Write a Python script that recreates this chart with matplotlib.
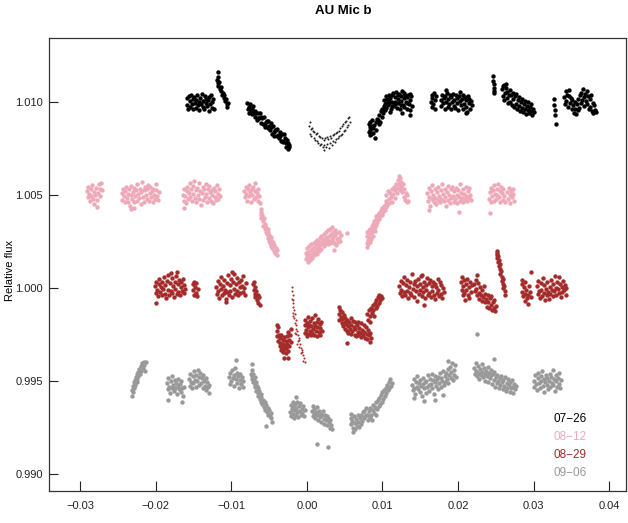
import matplotlib
matplotlib.use("Agg")
import matplotlib.pyplot as plt
from matplotlib.ticker import FixedLocator, FuncFormatter

plt.rcParams['font.family'] = ['Liberation Sans', 'DejaVu Sans']

# ---------------- data (x, relative flux) ----------------
k0726 = [
    (-0.0159,1.00985),(-0.0158,1.01020),(-0.0157,1.00965),(-0.0156,1.01030),(-0.0155,1.01005),(-0.0154,1.00975),
    (-0.0153,1.01040),(-0.0152,1.00990),(-0.0151,1.01015),(-0.0150,1.00960),(-0.0149,1.01025),(-0.0148,1.00995),
    (-0.0147,1.01010),(-0.0146,1.00970),(-0.0145,1.01035),(-0.0144,1.00985),(-0.0143,1.01000),(-0.0142,1.00955),
    (-0.0141,1.01020),(-0.0140,1.00990),(-0.0139,1.01045),(-0.0138,1.00975),(-0.0137,1.01005),(-0.0136,1.00965),
    (-0.0135,1.01030),(-0.0134,1.00995),(-0.0133,1.01015),(-0.0132,1.00980),(-0.0131,1.01010),(-0.0130,1.00950),
    (-0.0129,1.01025),(-0.0128,1.00990),(-0.0127,1.01040),(-0.0126,1.00970),(-0.0125,1.01000),(-0.0124,1.01015),
    (-0.0123,1.00960),
    (-0.0119,1.01120),(-0.0118,1.01100),(-0.0118,1.01135),(-0.0117,1.01085),(-0.0116,1.01105),(-0.0115,1.01070),
    (-0.0114,1.01060),(-0.0113,1.01080),(-0.0112,1.01040),(-0.0111,1.01050),(-0.0110,1.01020),(-0.0109,1.01035),
    (-0.0108,1.01005),(-0.0107,1.01015),(-0.0106,1.00990),(-0.0105,1.00975),(-0.0104,1.00995),(-0.0118,1.01161),
    (-0.0079,1.00995),(-0.0078,1.00960),(-0.0077,1.00973),(-0.0076,1.00943),(-0.0075,1.00989),(-0.0074,1.00953),
    (-0.0073,1.00935),(-0.0072,1.00965),(-0.0071,1.00976),(-0.0070,1.00941),(-0.0069,1.00917),(-0.0068,1.00954),
    (-0.0067,1.00941),(-0.0066,1.00903),(-0.0065,1.00942),(-0.0064,1.00912),(-0.0063,1.00913),(-0.0062,1.00941),
    (-0.0061,1.00889),(-0.0060,1.00917),(-0.0059,1.00916),(-0.0058,1.00884),(-0.0057,1.00918),(-0.0056,1.00868),
    (-0.0055,1.00877),(-0.0054,1.00893),(-0.0053,1.00896),(-0.0052,1.00858),(-0.0051,1.00899),(-0.0050,1.00870),
    (-0.0049,1.00851),(-0.0048,1.00885),(-0.0047,1.00866),(-0.0046,1.00827),(-0.0045,1.00872),(-0.0044,1.00840),
    (-0.0043,1.00819),(-0.0042,1.00847),(-0.0041,1.00847),(-0.0040,1.00819),(-0.0039,1.00854),(-0.0038,1.00822),
    (-0.0037,1.00809),(-0.0036,1.00839),(-0.0035,1.00816),(-0.0034,1.00789),(-0.0033,1.00826),(-0.0032,1.00786),
    (-0.0031,1.00790),(-0.0030,1.00826),(-0.0029,1.00806),(-0.0028,1.00777),(-0.0027,1.00758),(-0.0026,1.00794),
    (-0.0025,1.00782),(-0.0024,1.00758),(-0.0024,1.00770),(-0.0025,1.00745),
    (0.0082,1.00880),(0.0082,1.00840),(0.0083,1.00865),(0.0083,1.00825),(0.0084,1.00895),(0.0084,1.00850),
    (0.0085,1.00870),(0.0085,1.00830),(0.0086,1.00905),(0.0087,1.00860),(0.0088,1.00835),(0.0089,1.00875),
    (0.0090,1.00806),(0.0091,1.00890),(0.0092,1.00850),(0.0093,1.00910),
    (0.0094,1.00905),(0.0095,1.00880),(0.0096,1.00930),(0.0097,1.00895),(0.0098,1.00950),(0.0099,1.00920),
    (0.0100,1.00965),(0.0101,1.00940),(0.0102,1.00980),(0.0103,1.00955),
    (0.0102,1.01010),(0.0103,1.00990),(0.0104,1.01030),(0.0105,1.00970),(0.0106,1.01015),(0.0107,1.00985),
    (0.0108,1.01040),(0.0109,1.00995),(0.0110,1.01020),(0.0111,1.00965),(0.0112,1.01035),(0.0113,1.01000),
    (0.0114,1.01050),(0.0115,1.00980),(0.0116,1.01025),(0.0117,1.00990),(0.0118,1.01055),(0.0119,1.00970),
    (0.0120,1.01015),(0.0121,1.00995),(0.0122,1.01045),(0.0123,1.00960),(0.0124,1.01030),(0.0125,1.01005),
    (0.0126,1.01060),(0.0127,1.00985),(0.0128,1.01020),(0.0129,1.00975),(0.0130,1.01040),(0.0131,1.01000),
    (0.0132,1.01025),(0.0133,1.00965),(0.0134,1.01035),(0.0135,1.00990),(0.0136,1.01010),(0.0137,1.00955),
    (0.0138,1.01030),(0.0139,1.00980),(0.0104,1.00995),(0.0108,1.01005),(0.0112,1.00980),(0.0116,1.01000),
    (0.0120,1.01040),(0.0124,1.00985),(0.0128,1.01050),(0.0132,1.00995),(0.0136,1.01045),(0.0110,1.00945),
    (0.0126,1.00940),(0.0137,1.00930),
    (0.0164,1.01000),(0.0165,1.01040),(0.0165,1.00975),(0.0166,1.01020),(0.0167,1.00990),(0.0168,1.01050),
    (0.0169,1.01010),(0.0170,1.00965),(0.0171,1.01030),
    (0.0177,1.01010),(0.0178,1.00980),(0.0179,1.01040),(0.0180,1.00995),(0.0181,1.01020),(0.0182,1.00965),
    (0.0183,1.01030),(0.0184,1.01000),(0.0185,1.01050),(0.0186,1.00975),(0.0187,1.01015),(0.0188,1.00990),
    (0.0189,1.01035),(0.0190,1.00960),(0.0191,1.01025),(0.0192,1.01000),(0.0193,1.01045),(0.0194,1.00980),
    (0.0195,1.01010),(0.0196,1.00970),(0.0197,1.01040),(0.0198,1.00995),(0.0199,1.01020),(0.0200,1.00955),
    (0.0201,1.01030),(0.0202,1.01005),(0.0203,1.01055),(0.0204,1.00985),(0.0205,1.01015),(0.0206,1.00965),
    (0.0207,1.01035),(0.0208,1.00990),(0.0209,1.01025),(0.0210,1.00975),(0.0211,1.01010),(0.0212,1.00945),
    (0.0213,1.01030),(0.0214,1.00995),(0.0215,1.01015),(0.0216,1.00960),(0.0217,1.01005),(0.0218,1.00985),
    (0.0184,1.01065),(0.0210,1.00940),
    (0.0246,1.01140),(0.0246,1.01115),(0.0247,1.01095),(0.0247,1.01075),(0.0248,1.01060),(0.0248,1.01050),
    (0.0258,1.01070),(0.0259,1.01030),(0.0260,1.01085),(0.0261,1.01010),(0.0262,1.01050),(0.0263,1.01075),
    (0.0264,1.01020),(0.0265,1.01055),(0.0266,1.00995),(0.0267,1.01040),(0.0268,1.01065),(0.0269,1.01000),
    (0.0270,1.01035),(0.0271,1.00985),(0.0272,1.01050),(0.0273,1.01015),(0.0274,1.00975),(0.0275,1.01030),
    (0.0276,1.00990),(0.0277,1.01045),(0.0278,1.00965),(0.0279,1.01010),(0.0280,1.00980),(0.0281,1.01025),
    (0.0282,1.00950),(0.0283,1.01000),(0.0284,1.00970),(0.0285,1.01015),(0.0286,1.00945),(0.0287,1.00990),
    (0.0288,1.00960),(0.0289,1.01005),(0.0290,1.00935),(0.0291,1.00980),(0.0292,1.00955),(0.0293,1.01000),
    (0.0294,1.00940),(0.0295,1.00975),(0.0296,1.00950),(0.0297,1.00990),(0.0298,1.00930),(0.0299,1.00965),
    (0.0300,1.00945),(0.0261,1.01090),(0.0263,1.01095),
    (0.0327,1.01016),(0.0327,1.00984),(0.0328,1.00957),(0.0328,1.00930),(0.0329,1.00882),
    (0.0340,1.01025),(0.0341,1.00990),(0.0342,1.01060),(0.0343,1.01005),(0.0344,1.01040),(0.0345,1.00975),
    (0.0346,1.01030),(0.0347,1.01065),(0.0348,1.00995),(0.0349,1.01020),(0.0350,1.00960),(0.0351,1.01010),
    (0.0352,1.00985),(0.0353,1.00940),(0.0354,1.01000),(0.0355,1.00965),(0.0356,1.00935),(0.0357,1.00990),
    (0.0358,1.00955),(0.0359,1.01015),(0.0360,1.00970),(0.0361,1.01035),(0.0362,1.00995),(0.0363,1.01050),
    (0.0364,1.01010),(0.0365,1.01070),(0.0366,1.01025),(0.0367,1.00980),(0.0368,1.01045),(0.0369,1.01005),
    (0.0370,1.01060),(0.0371,1.00990),(0.0372,1.01030),(0.0373,1.00960),(0.0374,1.01015),(0.0375,1.00975),
    (0.0376,1.01035),(0.0377,1.00950),(0.0378,1.00995),(0.0379,1.00940),(0.0380,1.00985),(0.0381,1.00955),
    (0.0382,1.00945),
]

k0726_dots = [
    (0.0003,1.00870),(0.0004,1.00830),(0.0005,1.00855),(0.0006,1.00815),(0.0007,1.00860),(0.0008,1.00845),
    (0.0009,1.00805),(0.0010,1.00840),(0.0011,1.00798),(0.0012,1.00830),(0.0013,1.00790),(0.0014,1.00835),
    (0.0015,1.00780),(0.0016,1.00815),(0.0017,1.00770),(0.0018,1.00810),(0.0019,1.00775),(0.0020,1.00805),
    (0.0021,1.00760),(0.0022,1.00795),(0.0023,1.00768),(0.0024,1.00805),(0.0025,1.00760),(0.0026,1.00812),
    (0.0027,1.00772),(0.0028,1.00800),(0.0029,1.00755),(0.0030,1.00815),(0.0031,1.00780),(0.0032,1.00808),
    (0.0033,1.00770),(0.0034,1.00822),(0.0035,1.00790),(0.0036,1.00830),(0.0037,1.00785),(0.0038,1.00835),
    (0.0039,1.00800),(0.0040,1.00840),(0.0041,1.00805),(0.0042,1.00845),(0.0043,1.00815),(0.0044,1.00860),
    (0.0045,1.00820),(0.0046,1.00870),(0.0047,1.00830),(0.0048,1.00880),(0.0049,1.00845),(0.0050,1.00895),
    (0.0051,1.00850),(0.0052,1.00900),(0.0053,1.00865),(0.0054,1.00915),(0.0055,1.00875),(0.0056,1.00920),
    (0.0057,1.00890),(0.0004,1.00893),(0.0022,1.00742),
]

p0812 = [
    (-0.0291,1.00520),(-0.0290,1.00490),(-0.0289,1.00545),(-0.0288,1.00505),(-0.0287,1.00470),(-0.0286,1.00530),
    (-0.0285,1.00495),(-0.0284,1.00555),(-0.0283,1.00480),(-0.0282,1.00515),(-0.0281,1.00450),(-0.0280,1.00500),
    (-0.0279,1.00540),(-0.0278,1.00475),(-0.0277,1.00435),(-0.0276,1.00510),(-0.0275,1.00560),(-0.0274,1.00495),
    (-0.0273,1.00530),(-0.0272,1.00565),(-0.0271,1.00525),
    (-0.0245,1.00510),(-0.0244,1.00475),(-0.0243,1.00535),(-0.0242,1.00495),(-0.0241,1.00460),(-0.0240,1.00520),
    (-0.0239,1.00545),(-0.0238,1.00485),(-0.0237,1.00505),(-0.0236,1.00465),(-0.0235,1.00530),(-0.0234,1.00440),
    (-0.0233,1.00500),(-0.0232,1.00550),(-0.0231,1.00480),(-0.0230,1.00515),(-0.0229,1.00460),(-0.0228,1.00540),
    (-0.0227,1.00495),(-0.0226,1.00525),(-0.0225,1.00470),(-0.0224,1.00560),(-0.0223,1.00505),(-0.0222,1.00485),
    (-0.0221,1.00535),(-0.0220,1.00450),(-0.0219,1.00515),(-0.0218,1.00570),(-0.0217,1.00490),(-0.0216,1.00525),
    (-0.0215,1.00465),(-0.0214,1.00545),(-0.0213,1.00500),(-0.0212,1.00480),(-0.0211,1.00530),(-0.0210,1.00555),
    (-0.0209,1.00470),(-0.0208,1.00510),(-0.0207,1.00545),(-0.0206,1.00490),(-0.0205,1.00520),(-0.0204,1.00465),
    (-0.0203,1.00535),(-0.0202,1.00500),(-0.0201,1.00480),(-0.0200,1.00525),(-0.0199,1.00560),(-0.0198,1.00495),
    (-0.0197,1.00475),(-0.0196,1.00515),(-0.0232,1.00425),(-0.0228,1.00430),
    (-0.0164,1.00500),(-0.0163,1.00470),(-0.0162,1.00535),(-0.0161,1.00495),(-0.0160,1.00455),(-0.0159,1.00520),
    (-0.0158,1.00545),(-0.0157,1.00480),(-0.0156,1.00510),(-0.0155,1.00565),(-0.0154,1.00490),(-0.0153,1.00530),
    (-0.0152,1.00470),(-0.0151,1.00550),(-0.0150,1.00505),(-0.0149,1.00575),(-0.0148,1.00485),(-0.0147,1.00525),
    (-0.0146,1.00460),(-0.0145,1.00540),(-0.0144,1.00500),(-0.0143,1.00565),(-0.0142,1.00480),(-0.0141,1.00520),
    (-0.0140,1.00445),(-0.0139,1.00510),(-0.0138,1.00545),(-0.0137,1.00475),(-0.0136,1.00530),(-0.0135,1.00490),
    (-0.0134,1.00560),(-0.0133,1.00505),(-0.0132,1.00465),(-0.0131,1.00535),(-0.0130,1.00485),(-0.0129,1.00550),
    (-0.0128,1.00515),(-0.0127,1.00470),(-0.0126,1.00525),(-0.0125,1.00500),(-0.0124,1.00455),(-0.0123,1.00540),
    (-0.0122,1.00490),(-0.0121,1.00520),(-0.0120,1.00475),(-0.0119,1.00555),(-0.0118,1.00505),(-0.0117,1.00480),
    (-0.0116,1.00530),(-0.0115,1.00495),(-0.0163,1.00430),
    (-0.0083,1.00520),(-0.0082,1.00490),(-0.0081,1.00545),(-0.0080,1.00505),(-0.0079,1.00470),(-0.0078,1.00530),
    (-0.0077,1.00555),(-0.0076,1.00495),(-0.0075,1.00515),(-0.0074,1.00460),(-0.0073,1.00535),(-0.0072,1.00500),
    (-0.0071,1.00545),(-0.0070,1.00480),(-0.0069,1.00520),(-0.0068,1.00565),(-0.0067,1.00490),(-0.0066,1.00510),
    (-0.0065,1.00470),(-0.0064,1.00530),(-0.0063,1.00495),
    (-0.0062,1.00455),(-0.0061,1.00425),(-0.0061,1.00395),(-0.0060,1.00410),(-0.0060,1.00375),(-0.0059,1.00390),
    (-0.0058,1.00360),(-0.0058,1.00335),(-0.0057,1.00375),(-0.0056,1.00345),(-0.0056,1.00315),(-0.0055,1.00335),
    (-0.0054,1.00300),(-0.0054,1.00325),(-0.0053,1.00290),(-0.0052,1.00315),(-0.0052,1.00270),(-0.0051,1.00300),
    (-0.0050,1.00255),(-0.0050,1.00285),(-0.0049,1.00240),(-0.0048,1.00275),(-0.0048,1.00225),(-0.0047,1.00260),
    (-0.0046,1.00215),(-0.0045,1.00245),(-0.0044,1.00200),(-0.0043,1.00230),(-0.0042,1.00190),(-0.0041,1.00215),
    (-0.0040,1.00180),(-0.0039,1.00205),
    (-0.0001,1.00190),(-0.0001,1.00155),(0.0000,1.00215),(0.0000,1.00170),(0.0001,1.00140),(0.0002,1.00195),
    (0.0002,1.00160),(0.0003,1.00225),(0.0003,1.00180),(0.0004,1.00150),(0.0005,1.00205),(0.0005,1.00170),
    (0.0006,1.00235),(0.0007,1.00185),(0.0007,1.00160),(0.0008,1.00215),(0.0009,1.00195),(0.0009,1.00240),
    (0.0010,1.00175),(0.0011,1.00220),(0.0011,1.00250),(0.0012,1.00200),(0.0013,1.00230),(0.0013,1.00185),
    (0.0014,1.00260),(0.0015,1.00215),(0.0015,1.00245),(0.0016,1.00200),(0.0017,1.00270),(0.0017,1.00230),
    (0.0018,1.00250),(0.0019,1.00210),(0.0019,1.00280),(0.0020,1.00240),(0.0021,1.00265),(0.0022,1.00225),
    (0.0022,1.00290),(0.0023,1.00255),(0.0024,1.00235),(0.0025,1.00275),(0.0025,1.00300),(0.0026,1.00245),
    (0.0027,1.00265),(0.0028,1.00310),(0.0028,1.00235),(0.0029,1.00280),(0.0030,1.00255),(0.0030,1.00320),
    (0.0031,1.00240),(0.0032,1.00290),(0.0033,1.00265),(0.0033,1.00330),(0.0034,1.00250),(0.0035,1.00300),
    (0.0035,1.00275),(0.0036,1.00240),(0.0037,1.00310),(0.0037,1.00285),(0.0038,1.00230),(0.0039,1.00295),
    (0.0040,1.00265),(0.0041,1.00245),(0.0042,1.00300),(0.0043,1.00270),(0.0044,1.00255),(0.0045,1.00285),
    (0.0053,1.00296),(0.0036,1.00204),
    (0.0079,1.00240),(0.0079,1.00280),(0.0080,1.00220),(0.0080,1.00300),(0.0081,1.00260),(0.0081,1.00235),
    (0.0082,1.00310),(0.0082,1.00275),(0.0083,1.00250),(0.0084,1.00320),(0.0084,1.00290),(0.0085,1.00265),
    (0.0086,1.00335),(0.0086,1.00300),(0.0087,1.00280),(0.0088,1.00345),(0.0088,1.00315),(0.0089,1.00360),
    (0.0090,1.00330),(0.0090,1.00305),(0.0091,1.00370),(0.0092,1.00340),(0.0092,1.00385),(0.0093,1.00355),
    (0.0094,1.00395),(0.0095,1.00370),(0.0096,1.00405),(0.0097,1.00385),(0.0098,1.00420),(0.0099,1.00395),
    (0.0100,1.00430),(0.0101,1.00410),(0.0102,1.00440),(0.0103,1.00420),(0.0104,1.00450),(0.0105,1.00435),
    (0.0104,1.00470),(0.0105,1.00500),(0.0106,1.00445),(0.0107,1.00520),(0.0108,1.00480),(0.0109,1.00455),
    (0.0110,1.00510),(0.0111,1.00490),(0.0112,1.00530),(0.0113,1.00465),(0.0114,1.00505),(0.0115,1.00545),
    (0.0116,1.00485),(0.0117,1.00525),(0.0118,1.00560),(0.0119,1.00510),(0.0120,1.00580),(0.0121,1.00540),
    (0.0122,1.00600),(0.0122,1.00560),(0.0123,1.00590),(0.0123,1.00525),(0.0124,1.00570),(0.0125,1.00545),
    (0.0126,1.00515),(0.0127,1.00560),(0.0128,1.00490),(0.0129,1.00530),(0.0130,1.00475),(0.0131,1.00510),
    (0.0132,1.00460),(0.0133,1.00500),(0.0134,1.00470),
    (0.0159,1.00510),(0.0160,1.00470),(0.0161,1.00540),(0.0162,1.00490),(0.0163,1.00440),(0.0164,1.00520),
    (0.0165,1.00480),(0.0166,1.00555),(0.0167,1.00500),(0.0168,1.00465),(0.0169,1.00530),(0.0170,1.00485),
    (0.0171,1.00450),(0.0172,1.00515),(0.0173,1.00475),(0.0174,1.00545),(0.0175,1.00495),(0.0176,1.00460),
    (0.0177,1.00525),(0.0178,1.00480),(0.0179,1.00560),(0.0180,1.00505),(0.0181,1.00470),(0.0182,1.00535),
    (0.0183,1.00490),(0.0184,1.00440),(0.0185,1.00515),(0.0186,1.00550),(0.0187,1.00475),(0.0188,1.00500),
    (0.0189,1.00455),(0.0190,1.00530),(0.0191,1.00485),(0.0192,1.00545),(0.0193,1.00495),(0.0194,1.00465),
    (0.0195,1.00520),(0.0196,1.00480),(0.0197,1.00540),(0.0198,1.00500),(0.0199,1.00455),(0.0200,1.00525),
    (0.0201,1.00490),(0.0202,1.00560),(0.0203,1.00470),(0.0204,1.00510),(0.0205,1.00485),(0.0206,1.00535),
    (0.0207,1.00460),(0.0208,1.00505),(0.0209,1.00480),(0.0210,1.00545),(0.0211,1.00495),(0.0212,1.00470),
    (0.0213,1.00520),(0.0214,1.00485),(0.0215,1.00540),(0.0216,1.00500),(0.0217,1.00475),(0.0161,1.00420),
    (0.0201,1.00410),
    (0.0241,1.00480),(0.0242,1.00515),(0.0243,1.00460),(0.0244,1.00540),(0.0245,1.00495),(0.0246,1.00525),
    (0.0247,1.00470),(0.0248,1.00555),(0.0249,1.00505),(0.0250,1.00480),(0.0251,1.00535),(0.0252,1.00500),
    (0.0253,1.00560),(0.0254,1.00490),(0.0255,1.00520),(0.0256,1.00465),(0.0257,1.00545),(0.0258,1.00510),
    (0.0259,1.00475),(0.0260,1.00530),(0.0261,1.00495),(0.0262,1.00460),(0.0265,1.00515),(0.0266,1.00480),
    (0.0267,1.00540),(0.0268,1.00500),(0.0269,1.00455),(0.0270,1.00520),(0.0271,1.00490),(0.0272,1.00535),
    (0.0273,1.00505),(0.0274,1.00470),(0.0242,1.00405),
]

r0829 = [
    (-0.0201,1.00010),(-0.0200,0.99975),(-0.0199,1.00035),(-0.0198,0.99990),(-0.0197,0.99955),(-0.0196,1.00020),
    (-0.0195,1.00050),(-0.0194,0.99980),(-0.0193,1.00005),(-0.0192,0.99960),(-0.0191,1.00030),(-0.0190,0.99995),
    (-0.0189,1.00060),(-0.0188,0.99970),(-0.0187,1.00015),(-0.0186,0.99945),(-0.0185,1.00040),(-0.0184,0.99990),
    (-0.0183,1.00070),(-0.0182,0.99965),(-0.0181,1.00025),(-0.0180,0.99985),(-0.0179,1.00055),(-0.0178,0.99975),
    (-0.0177,1.00010),(-0.0176,0.99950),(-0.0175,1.00035),(-0.0174,0.99995),(-0.0173,1.00065),(-0.0172,0.99970),
    (-0.0171,1.00020),(-0.0170,0.99980),(-0.0169,1.00045),(-0.0168,0.99960),(-0.0167,1.00005),(-0.0166,1.00030),
    (-0.0165,0.99985),(-0.0164,1.00050),(-0.0163,0.99975),(-0.0162,1.00015),(-0.0161,0.99995),(-0.0180,1.00081),
    (-0.0172,1.00086),(-0.0199,0.99920),
    (-0.0151,1.00020),(-0.0150,0.99990),(-0.0149,1.00035),(-0.0149,0.99965),(-0.0148,1.00005),(-0.0147,0.99975),
    (-0.0146,1.00025),(-0.0145,0.99955),(-0.0144,0.99995),
    (-0.0120,1.00005),(-0.0119,0.99970),(-0.0118,1.00040),(-0.0117,0.99985),(-0.0116,0.99945),(-0.0115,1.00020),
    (-0.0114,0.99995),(-0.0113,1.00060),(-0.0112,0.99960),(-0.0111,1.00010),(-0.0110,0.99975),(-0.0109,1.00045),
    (-0.0108,0.99990),(-0.0107,0.99940),(-0.0106,1.00025),(-0.0105,0.99980),(-0.0104,1.00070),(-0.0103,0.99965),
    (-0.0102,1.00015),(-0.0101,0.99985),(-0.0100,1.00050),(-0.0099,0.99950),(-0.0098,1.00030),(-0.0097,0.99995),
    (-0.0096,1.00075),(-0.0095,0.99970),(-0.0094,1.00020),(-0.0093,0.99985),(-0.0092,1.00055),(-0.0091,0.99960),
    (-0.0090,1.00035),(-0.0089,1.00005),(-0.0088,0.99975),(-0.0087,1.00045),(-0.0086,1.00010),(-0.0085,0.99980),
    (-0.0084,1.00065),(-0.0083,1.00000),(-0.0082,0.99965),(-0.0081,1.00025),(-0.0099,1.00085),(-0.0107,0.99925),
    (-0.0071,1.00020),(-0.0070,0.99990),(-0.0070,1.00035),(-0.0069,0.99970),(-0.0068,1.00005),(-0.0068,0.99950),
    (-0.0067,0.99985),(-0.0066,0.99935),(-0.0065,0.99965),(-0.0064,0.99920),(-0.0063,0.99950),(-0.0062,0.99910),
    (-0.0040,0.99800),(-0.0039,0.99770),(-0.0039,0.99740),(-0.0038,0.99790),(-0.0038,0.99715),(-0.0037,0.99750),
    (-0.0036,0.99690),(-0.0036,0.99730),(-0.0035,0.99705),(-0.0034,0.99665),(-0.0034,0.99745),(-0.0033,0.99680),
    (-0.0032,0.99720),(-0.0032,0.99655),(-0.0031,0.99700),(-0.0030,0.99670),(-0.0030,0.99735),(-0.0029,0.99690),
    (-0.0028,0.99650),(-0.0028,0.99715),(-0.0027,0.99680),(-0.0026,0.99740),(-0.0026,0.99700),(-0.0025,0.99660),
    (-0.0024,0.99720),(-0.0023,0.99690),(-0.0022,0.99750),(-0.0021,0.99710),(-0.0030,0.99625),(-0.0025,0.99625),
    (-0.0021,0.99780),(-0.0025,0.99765),
    (-0.0003,0.99800),(-0.0002,0.99760),(-0.0002,0.99830),(-0.0001,0.99775),(0.0000,0.99740),(0.0000,0.99810),
    (0.0001,0.99790),(0.0002,0.99755),(0.0002,0.99845),(0.0003,0.99800),(0.0004,0.99770),(0.0004,0.99825),
    (0.0005,0.99745),(0.0006,0.99795),(0.0007,0.99760),(0.0007,0.99840),(0.0008,0.99780),(0.0009,0.99810),
    (0.0010,0.99750),(0.0011,0.99795),(0.0011,0.99855),(0.0012,0.99770),(0.0013,0.99820),(0.0014,0.99740),
    (0.0014,0.99790),(0.0015,0.99835),(0.0016,0.99765),(0.0017,0.99805),(0.0018,0.99745),(0.0018,0.99785),
    (0.0019,0.99820),(0.0020,0.99770),
    (0.0042,0.99900),(0.0043,0.99860),(0.0043,0.99830),(0.0044,0.99880),(0.0045,0.99845),(0.0046,0.99810),
    (0.0046,0.99870),(0.0047,0.99835),(0.0048,0.99795),(0.0049,0.99855),(0.0050,0.99820),(0.0050,0.99780),
    (0.0051,0.99840),(0.0052,0.99805),(0.0053,0.99770),(0.0053,0.99830),(0.0054,0.99795),(0.0055,0.99760),
    (0.0056,0.99815),(0.0057,0.99780),(0.0058,0.99840),(0.0058,0.99755),(0.0059,0.99800),(0.0060,0.99770),
    (0.0061,0.99825),(0.0062,0.99790),(0.0063,0.99750),(0.0063,0.99815),(0.0064,0.99780),(0.0065,0.99740),
    (0.0066,0.99800),(0.0067,0.99765),(0.0068,0.99820),(0.0068,0.99745),(0.0069,0.99785),(0.0070,0.99760),
    (0.0071,0.99810),(0.0072,0.99735),(0.0073,0.99775),(0.0074,0.99750),(0.0075,0.99800),(0.0076,0.99765),
    (0.0077,0.99730),(0.0078,0.99790),(0.0079,0.99755),(0.0080,0.99725),(0.0081,0.99775),(0.0082,0.99745),
    (0.0083,0.99710),(0.0084,0.99760),(0.0085,0.99730),(0.0053,0.99705),
    (0.0080,0.99860),(0.0081,0.99830),(0.0082,0.99880),(0.0083,0.99850),(0.0084,0.99820),(0.0085,0.99895),
    (0.0086,0.99865),(0.0087,0.99910),(0.0088,0.99880),(0.0089,0.99850),(0.0090,0.99920),(0.0091,0.99890),
    (0.0092,0.99935),(0.0093,0.99905),(0.0094,0.99950),(0.0095,0.99920),(0.0096,0.99960),(0.0097,0.99935),
    (0.0098,0.99955),(0.0099,0.99945),
    (0.0122,1.00010),(0.0123,0.99975),(0.0124,1.00040),(0.0125,0.99990),(0.0126,0.99955),(0.0127,1.00025),
    (0.0128,0.99980),(0.0129,1.00060),(0.0130,0.99965),(0.0131,1.00015),(0.0132,0.99985),(0.0133,1.00045),
    (0.0134,0.99945),(0.0135,1.00005),(0.0136,0.99975),(0.0137,1.00030),(0.0138,0.99960),(0.0139,1.00075),
    (0.0140,0.99995),(0.0141,1.00020),(0.0142,0.99950),(0.0143,1.00040),(0.0144,0.99985),(0.0145,1.00010),
    (0.0146,0.99930),(0.0147,1.00050),(0.0148,0.99970),(0.0149,1.00020),(0.0150,0.99990),(0.0151,1.00065),
    (0.0152,0.99955),(0.0153,1.00005),(0.0154,0.99980),(0.0155,1.00035),(0.0156,0.99945),(0.0157,1.00015),
    (0.0158,0.99990),(0.0159,1.00055),(0.0160,0.99965),(0.0161,1.00025),(0.0162,0.99975),(0.0163,1.00045),
    (0.0164,0.99950),(0.0165,1.00010),(0.0166,0.99985),(0.0167,1.00035),(0.0168,0.99960),(0.0169,1.00020),
    (0.0170,0.99940),(0.0171,1.00005),(0.0172,0.99975),(0.0173,1.00050),(0.0174,0.99990),(0.0175,0.99955),
    (0.0176,1.00030),(0.0177,0.99970),(0.0178,1.00015),(0.0179,0.99945),(0.0180,1.00000),(0.0181,0.99980),
    (0.0152,1.00070),(0.0155,0.99910),
    (0.0204,1.00030),(0.0205,0.99990),(0.0205,1.00060),(0.0206,0.99960),(0.0207,1.00010),(0.0208,1.00045),
    (0.0208,0.99975),(0.0209,0.99935),(0.0210,1.00020),(0.0211,0.99990),(0.0212,1.00050),(0.0213,0.99965),
    (0.0214,1.00005),(0.0215,0.99945),(0.0216,1.00030),(0.0217,0.99980),(0.0218,1.00015),
    (0.0221,1.00020),(0.0222,0.99985),(0.0223,1.00045),(0.0224,0.99995),(0.0225,0.99960),(0.0226,1.00025),
    (0.0227,0.99975),(0.0228,0.99940),(0.0229,1.00005),(0.0230,0.99965),(0.0231,0.99930),(0.0232,0.99990),
    (0.0233,0.99950),(0.0234,1.00010),(0.0235,0.99925),(0.0236,0.99970),(0.0237,0.99940),(0.0238,0.99900),
    (0.0239,0.99960),(0.0240,0.99925),(0.0241,0.99890),(0.0242,0.99945),(0.0243,0.99910),(0.0244,0.99955),
    (0.0245,0.99880),(0.0246,0.99925),(0.0247,0.99895),(0.0248,0.99935),(0.0249,0.99875),(0.0250,0.99905),
    (0.0225,1.00070),
    (0.0251,1.00200),(0.0251,1.00180),(0.0252,1.00190),(0.0252,1.00160),(0.0253,1.00170),(0.0253,1.00140),
    (0.0254,1.00150),(0.0254,1.00120),(0.0255,1.00130),(0.0256,1.00100),(0.0256,1.00075),(0.0257,1.00090),
    (0.0258,1.00060),(0.0258,1.00040),(0.0259,1.00050),(0.0260,1.00020),(0.0260,1.00000),(0.0261,1.00010),
    (0.0262,0.99985),(0.0262,0.99965),
    (0.0284,1.00020),(0.0285,0.99980),(0.0285,1.00045),(0.0286,0.99955),(0.0287,1.00005),(0.0288,0.99930),
    (0.0288,0.99970),(0.0289,1.00030),(0.0290,0.99990),(0.0291,0.99945),(0.0292,0.99915),(0.0293,0.99965),
    (0.0294,1.00010),(0.0295,0.99980),(0.0296,1.00085),(0.0297,0.99950),
    (0.0304,1.00010),(0.0305,0.99970),(0.0306,1.00040),(0.0307,0.99985),(0.0308,0.99945),(0.0309,1.00025),
    (0.0310,0.99990),(0.0311,0.99955),(0.0312,1.00055),(0.0313,0.99975),(0.0314,1.00015),(0.0315,0.99935),
    (0.0316,0.99995),(0.0317,0.99960),(0.0318,1.00030),(0.0319,0.99980),(0.0320,0.99940),(0.0321,1.00005),
    (0.0322,0.99970),(0.0323,1.00045),(0.0324,0.99990),(0.0325,0.99955),(0.0326,1.00020),(0.0327,0.99985),
    (0.0328,1.00065),(0.0329,1.00000),(0.0330,0.99965),(0.0331,1.00035),(0.0332,0.99995),(0.0333,1.00060),
    (0.0334,0.99975),(0.0335,1.00020),(0.0336,0.99950),(0.0337,1.00005),(0.0338,0.99980),(0.0339,1.00040),
    (0.0340,0.99990),(0.0341,1.00015),(0.0342,0.99960),(0.0343,1.00000),
]

r0829_dots = [
    (-0.0020,1.00005),(-0.0020,0.99985),(-0.0019,0.99960),(-0.0020,0.99940),(-0.0019,0.99920),(-0.0018,0.99935),
    (-0.0018,0.99900),(-0.0017,0.99880),(-0.0018,0.99865),(-0.0016,0.99860),(-0.0017,0.99840),(-0.0015,0.99830),
    (-0.0016,0.99810),(-0.0014,0.99800),(-0.0015,0.99780),(-0.0013,0.99770),(-0.0014,0.99755),(-0.0012,0.99745),
    (-0.0011,0.99730),(-0.0012,0.99715),(-0.0010,0.99720),(-0.0009,0.99700),(-0.0010,0.99685),(-0.0008,0.99680),
    (-0.0007,0.99665),(-0.0008,0.99650),(-0.0006,0.99655),(-0.0005,0.99640),(-0.0004,0.99625),(-0.0005,0.99610),
    (-0.0003,0.99605),(-0.0019,0.99850),(-0.0013,0.99700),(-0.0016,0.99760),
]

g0906 = [
    (-0.0231,0.99450),(-0.0231,0.99420),(-0.0230,0.99475),(-0.0230,0.99440),(-0.0229,0.99460),(-0.0229,0.99495),
    (-0.0228,0.99470),(-0.0227,0.99505),(-0.0227,0.99480),(-0.0226,0.99520),(-0.0225,0.99495),(-0.0225,0.99540),
    (-0.0224,0.99510),(-0.0223,0.99550),(-0.0223,0.99525),(-0.0222,0.99565),(-0.0221,0.99540),(-0.0220,0.99580),
    (-0.0219,0.99555),(-0.0218,0.99595),(-0.0217,0.99570),(-0.0216,0.99605),(-0.0215,0.99585),(-0.0214,0.99555),
    (-0.0213,0.99600),
    (-0.0185,0.99490),(-0.0184,0.99455),(-0.0183,0.99515),(-0.0182,0.99470),(-0.0181,0.99435),(-0.0180,0.99500),
    (-0.0179,0.99460),(-0.0178,0.99525),(-0.0177,0.99480),(-0.0176,0.99445),(-0.0175,0.99505),(-0.0174,0.99465),
    (-0.0173,0.99490),(-0.0172,0.99430),(-0.0171,0.99475),(-0.0170,0.99510),(-0.0169,0.99455),(-0.0168,0.99485),
    (-0.0167,0.99440),(-0.0166,0.99500),(-0.0165,0.99465),(-0.0164,0.99420),(-0.0163,0.99470),(-0.0184,0.99400),
    (-0.0165,0.99390),
    (-0.0156,0.99510),(-0.0155,0.99475),(-0.0154,0.99540),(-0.0153,0.99495),(-0.0152,0.99460),(-0.0151,0.99525),
    (-0.0150,0.99490),(-0.0149,0.99555),(-0.0148,0.99505),(-0.0147,0.99470),(-0.0146,0.99535),(-0.0145,0.99500),
    (-0.0144,0.99560),(-0.0143,0.99480),(-0.0142,0.99520),(-0.0141,0.99545),(-0.0140,0.99490),(-0.0139,0.99515),
    (-0.0138,0.99465),(-0.0137,0.99530),(-0.0136,0.99500),(-0.0135,0.99475),(-0.0134,0.99515),(-0.0133,0.99450),
    (-0.0132,0.99495),(-0.0131,0.99470),(-0.0130,0.99435),(-0.0129,0.99480),
    (-0.0103,0.99520),(-0.0102,0.99485),(-0.0101,0.99545),(-0.0100,0.99500),(-0.0099,0.99560),(-0.0098,0.99515),
    (-0.0097,0.99475),(-0.0096,0.99535),(-0.0095,0.99570),(-0.0094,0.99510),(-0.0093,0.99490),(-0.0092,0.99545),
    (-0.0091,0.99525),(-0.0090,0.99465),(-0.0089,0.99505),(-0.0088,0.99540),(-0.0087,0.99485),(-0.0086,0.99520),
    (-0.0085,0.99470),(-0.0084,0.99500),(-0.0094,0.99613),
    (-0.0074,0.99540),(-0.0073,0.99510),(-0.0073,0.99560),(-0.0072,0.99525),(-0.0071,0.99495),(-0.0071,0.99540),
    (-0.0070,0.99505),(-0.0069,0.99480),(-0.0069,0.99520),(-0.0068,0.99470),(-0.0067,0.99495),(-0.0067,0.99445),
    (-0.0066,0.99475),(-0.0065,0.99435),(-0.0064,0.99460),(-0.0064,0.99420),(-0.0063,0.99445),(-0.0062,0.99405),
    (-0.0061,0.99430),(-0.0060,0.99390),(-0.0060,0.99415),(-0.0059,0.99375),(-0.0058,0.99400),(-0.0057,0.99360),
    (-0.0056,0.99385),(-0.0055,0.99345),(-0.0054,0.99370),(-0.0053,0.99335),(-0.0052,0.99355),(-0.0051,0.99320),
    (-0.0050,0.99345),(-0.0049,0.99310),(-0.0048,0.99330),(-0.0047,0.99300),(-0.0046,0.99280),(-0.0054,0.99258),
    (-0.0072,0.99590),
    (-0.0022,0.99335),(-0.0021,0.99370),(-0.0021,0.99310),(-0.0020,0.99350),(-0.0019,0.99385),(-0.0019,0.99325),
    (-0.0018,0.99360),(-0.0017,0.99300),(-0.0017,0.99345),(-0.0016,0.99375),(-0.0015,0.99320),(-0.0014,0.99355),
    (-0.0013,0.99390),(-0.0013,0.99335),(-0.0012,0.99305),(-0.0011,0.99365),(-0.0010,0.99340),(-0.0009,0.99380),
    (-0.0008,0.99315),(-0.0007,0.99350),(-0.0006,0.99330),(-0.0005,0.99365),(-0.0004,0.99310),(-0.0003,0.99345),
    (-0.0015,0.99414),
    (0.0007,0.99340),(0.0008,0.99310),(0.0008,0.99365),(0.0009,0.99325),(0.0010,0.99350),(0.0011,0.99300),
    (0.0012,0.99335),(0.0013,0.99360),(0.0014,0.99315),(0.0015,0.99290),(0.0016,0.99340),(0.0017,0.99305),
    (0.0018,0.99325),(0.0019,0.99280),(0.0020,0.99315),(0.0021,0.99340),(0.0022,0.99295),(0.0023,0.99270),
    (0.0024,0.99320),(0.0025,0.99290),(0.0026,0.99310),(0.0027,0.99265),(0.0028,0.99300),(0.0029,0.99280),
    (0.0030,0.99250),(0.0031,0.99290),(0.0032,0.99265),(0.0033,0.99240),(0.0013,0.99161),(0.0028,0.99145),
    (0.0058,0.99300),(0.0059,0.99270),(0.0059,0.99325),(0.0060,0.99285),(0.0061,0.99250),(0.0062,0.99310),
    (0.0063,0.99275),(0.0064,0.99240),(0.0065,0.99295),(0.0066,0.99260),(0.0067,0.99320),(0.0068,0.99280),
    (0.0069,0.99255),(0.0070,0.99300),(0.0071,0.99270),(0.0072,0.99315),(0.0073,0.99285),(0.0074,0.99335),
    (0.0075,0.99300),(0.0076,0.99340),(0.0077,0.99310),(0.0078,0.99355),(0.0079,0.99320),(0.0061,0.99225),
    (0.0080,0.99320),(0.0081,0.99290),(0.0082,0.99340),(0.0083,0.99305),(0.0084,0.99355),(0.0085,0.99320),
    (0.0086,0.99290),(0.0087,0.99345),(0.0088,0.99370),(0.0089,0.99330),(0.0090,0.99360),(0.0091,0.99320),
    (0.0092,0.99385),(0.0093,0.99350),(0.0094,0.99400),(0.0095,0.99365),(0.0096,0.99410),(0.0097,0.99375),
    (0.0098,0.99425),(0.0099,0.99390),(0.0100,0.99440),(0.0101,0.99405),(0.0102,0.99450),(0.0103,0.99420),
    (0.0104,0.99465),(0.0105,0.99435),(0.0106,0.99480),(0.0107,0.99450),(0.0108,0.99495),(0.0109,0.99460),
    (0.0110,0.99510),(0.0111,0.99475),(0.0112,0.99490),
    (0.0139,0.99480),(0.0140,0.99450),(0.0141,0.99510),(0.0142,0.99465),(0.0143,0.99430),(0.0144,0.99495),
    (0.0145,0.99470),(0.0146,0.99525),(0.0147,0.99455),(0.0148,0.99490),(0.0149,0.99440),(0.0150,0.99505),
    (0.0151,0.99475),(0.0152,0.99420),(0.0153,0.99485),(0.0154,0.99515),(0.0155,0.99460),(0.0156,0.99495),
    (0.0157,0.99435),(0.0158,0.99500),(0.0159,0.99470),(0.0160,0.99530),(0.0161,0.99480),(0.0162,0.99445),
    (0.0163,0.99510),(0.0164,0.99485),(0.0165,0.99540),(0.0166,0.99465),(0.0167,0.99505),(0.0168,0.99430),
    (0.0169,0.99495),(0.0170,0.99525),(0.0171,0.99475),(0.0172,0.99510),(0.0173,0.99455),(0.0174,0.99520),
    (0.0175,0.99490),(0.0176,0.99545),(0.0177,0.99470),(0.0178,0.99515),(0.0179,0.99500),(0.0180,0.99555),
    (0.0181,0.99480),(0.0182,0.99525),(0.0183,0.99495),(0.0184,0.99545),(0.0185,0.99510),(0.0186,0.99565),
    (0.0187,0.99490),(0.0188,0.99530),(0.0189,0.99575),(0.0190,0.99515),(0.0191,0.99550),(0.0192,0.99595),
    (0.0193,0.99505),(0.0194,0.99560),(0.0195,0.99530),(0.0196,0.99585),(0.0197,0.99520),(0.0141,0.99410),
    (0.0155,0.99395),(0.0170,0.99400),(0.0180,0.99425),(0.0187,0.99610),
    (0.0221,0.99570),(0.0222,0.99540),(0.0223,0.99595),(0.0224,0.99555),(0.0225,0.99525),(0.0226,0.99580),
    (0.0227,0.99545),(0.0228,0.99510),(0.0229,0.99565),(0.0230,0.99535),(0.0231,0.99590),(0.0232,0.99550),
    (0.0233,0.99520),(0.0234,0.99570),(0.0235,0.99540),(0.0236,0.99500),(0.0237,0.99555),(0.0238,0.99525),
    (0.0239,0.99575),(0.0240,0.99495),(0.0241,0.99545),(0.0242,0.99515),(0.0243,0.99560),(0.0244,0.99530),
    (0.0245,0.99485),(0.0246,0.99540),(0.0247,0.99505),(0.0248,0.99550),(0.0249,0.99470),(0.0250,0.99520),
    (0.0251,0.99490),(0.0252,0.99535),(0.0253,0.99500),(0.0254,0.99460),(0.0255,0.99515),(0.0256,0.99480),
    (0.0257,0.99525),(0.0258,0.99495),(0.0259,0.99455),(0.0260,0.99505),(0.0261,0.99475),(0.0262,0.99520),
    (0.0263,0.99445),(0.0264,0.99490),(0.0265,0.99465),(0.0266,0.99510),(0.0267,0.99480),(0.0268,0.99440),
    (0.0269,0.99495),(0.0270,0.99460),(0.0271,0.99505),(0.0272,0.99470),(0.0273,0.99435),(0.0274,0.99485),
    (0.0275,0.99455),(0.0276,0.99475),(0.0247,0.99620),
    (0.0300,0.99500),(0.0301,0.99470),(0.0302,0.99530),(0.0303,0.99485),(0.0304,0.99450),(0.0305,0.99515),
    (0.0306,0.99545),(0.0307,0.99490),(0.0308,0.99460),(0.0309,0.99525),(0.0310,0.99500),(0.0311,0.99555),
    (0.0312,0.99475),(0.0313,0.99510),(0.0314,0.99440),(0.0315,0.99495),(0.0316,0.99535),(0.0317,0.99480),
    (0.0318,0.99515),(0.0319,0.99455),(0.0320,0.99500),(0.0321,0.99540),(0.0322,0.99470),(0.0323,0.99520),
    (0.0324,0.99490),(0.0325,0.99560),(0.0326,0.99480),(0.0327,0.99510),(0.0328,0.99445),(0.0329,0.99500),
    (0.0330,0.99535),(0.0331,0.99470),(0.0332,0.99515),(0.0333,0.99485),(0.0334,0.99545),(0.0335,0.99460),
    (0.0336,0.99505),(0.0225,0.99753),
]

series_labels = ["07\u221226", "08\u221212", "08\u221229", "09\u221206"]
series_colors = ["#000000", "#EEA9B8", "#A52A2A", "#999999"]
x_ticks = [-0.03, -0.02, -0.01, 0.00, 0.01, 0.02, 0.03, 0.04]
y_ticks = [0.990, 0.995, 1.000, 1.005, 1.010]
legend_y = [0.99296, 0.99199, 0.99102, 0.99005]

# ---------------- figure ----------------
fig = plt.figure(figsize=(6.28, 5.23), dpi=100)
ax = fig.add_axes([49/628, 1 - 491/523, 577/628, 453/523])

def scat(pts, color, s=10):
    xs, ys = zip(*pts)
    ax.scatter(xs, ys, s=s, c=color, linewidths=0, zorder=3)

scat(k0726, series_colors[0])
scat(k0726_dots, "#222222", s=2.2)
scat(p0812, series_colors[1])
scat(r0829, series_colors[2])
scat(r0829_dots, series_colors[2], s=2.2)
scat(g0906, series_colors[3])

ax.set_xlim(-0.0341, 0.0422)
ax.set_ylim(0.98909, 1.01344)

ax.xaxis.set_major_locator(FixedLocator(x_ticks))
ax.yaxis.set_major_locator(FixedLocator(y_ticks))
ax.xaxis.set_major_formatter(FuncFormatter(lambda v, p: f"{v:.2f}".replace("-", "\u2212")))
ax.yaxis.set_major_formatter(FuncFormatter(lambda v, p: f"{v:.3f}"))
ax.tick_params(axis='x', direction='in', length=7.5, width=0.8, labelsize=8, pad=7, colors='#222222')
ax.tick_params(axis='y', direction='in', length=6.7, width=0.8, labelsize=8, pad=4.5, colors='#222222')
for sp in ax.spines.values():
    sp.set_linewidth(0.9)
    sp.set_color('#333333')

fig.text(10/628, 1 - 270/523, "Relative flux", rotation=90, ha='center', va='center', fontsize=8)
fig.text(343/628, 1 - 11/523, "AU Mic b", ha='center', va='center', fontsize=9.5, fontweight='bold')

for lab, col, ly in zip(series_labels, series_colors, legend_y):
    ax.text(0.8735, ly, lab, transform=ax.get_yaxis_transform(), color=col,
            fontsize=8.5, ha='left', va='center')

fig.savefig("out.png", dpi=100)
